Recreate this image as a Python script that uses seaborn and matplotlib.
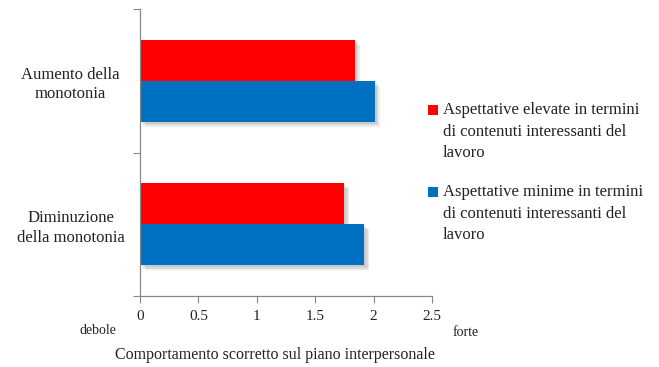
import matplotlib
matplotlib.use("Agg")
import matplotlib.pyplot as plt
import matplotlib.patheffects as pe
from matplotlib.patches import Rectangle
import seaborn as sns
import pandas as pd

categories = ["Aumento della\nmonotonia", "Diminuzione\ndella monotonia"]
series_names = [
    "Aspettative elevate in termini\ndi contenuti interessanti del\nlavoro",
    "Aspettative minime in termini\ndi contenuti interessanti del\nlavoro",
]
values_elevate = [1.84, 1.75]
values_minime = [2.01, 1.92]
colors = ["#FF0000", "#0070C0"]
x_ticks = [0, 0.5, 1, 1.5, 2, 2.5]
x_tick_labels = ["0", "0.5", "1", "1.5", "2", "2.5"]

df = pd.DataFrame({
    "categoria": categories * 2,
    "serie": [series_names[0]] * 2 + [series_names[1]] * 2,
    "valore": values_elevate + values_minime,
})

sns.set_theme(style="white")
plt.rcParams["font.family"] = ["Liberation Serif", "DejaVu Serif"]
txt_color = "#222222"

W, H = 659, 367
fig = plt.figure(figsize=(W / 100, H / 100), dpi=100)
ax = fig.add_axes([140 / W, 1 - 296 / H, 292 / W, 287 / H])

sns.barplot(data=df, y="categoria", x="valore", hue="serie", order=categories,
            hue_order=series_names, palette=colors, width=0.57, orient="h",
            saturation=1, ax=ax, legend=False)

# soft drop shadow under each bar
shadow = [pe.SimplePatchShadow(offset=(o, -o), shadow_rgbFace="#444444", alpha=0.10)
          for o in (3.5, 2.5, 1.5)] + [pe.Normal()]
for p in ax.patches:
    p.set_edgecolor("none")
    p.set_path_effects(shadow)

ax.set_xlim(0, 2.5)
ax.set_ylim(1.5, -0.5)
ax.set_xticks(x_ticks)
ax.set_xticklabels(x_tick_labels, fontsize=11, color=txt_color)
ax.set_yticks([-0.5, 0.5, 1.5])
ax.set_yticklabels([])
ax.set_yticks([0, 1], minor=True)
ax.set_yticklabels(categories, minor=True, fontsize=12, color=txt_color,
                   ha="center", linespacing=1.3)
ax.tick_params(axis="y", which="minor", length=0, pad=50)
ax.tick_params(axis="y", which="major", length=5, width=0.8, color="#888888",
               direction="out", left=True)
ax.tick_params(axis="x", length=5, width=0.8, color="#888888", direction="out",
               bottom=True, pad=5)
ax.set_xlabel("")
ax.set_ylabel("")
for side in ["top", "right"]:
    ax.spines[side].set_visible(False)
for side in ["left", "bottom"]:
    ax.spines[side].set_color("#888888")
    ax.spines[side].set_linewidth(0.9)

# legend: square key beside the first line of each wrapped label
legend_tops = [110, 192]
line_step = 21.5
for name, col, y0 in zip(series_names, colors, legend_tops):
    fig.patches.append(Rectangle((428 / W, 1 - (y0 + 5) / H), 10 / W, 10 / H,
                                 transform=fig.transFigure, facecolor=col,
                                 edgecolor="none"))
    for i, line in enumerate(name.split("\n")):
        fig.text(443 / W, 1 - (y0 + i * line_step) / H, line, fontsize=12,
                 color=txt_color, ha="left", va="center")

fig.text(98 / W, 1 - 331 / H, "debole", fontsize=10, color=txt_color,
         ha="center", va="center")
fig.text(466 / W, 1 - 333 / H, "forte", fontsize=10, color=txt_color,
         ha="center", va="center")
fig.text(275 / W, 1 - 355 / H, "Comportamento scorretto sul piano interpersonale",
         fontsize=11.5, color=txt_color, ha="center", va="center")

fig.savefig("out.png", dpi=100)
